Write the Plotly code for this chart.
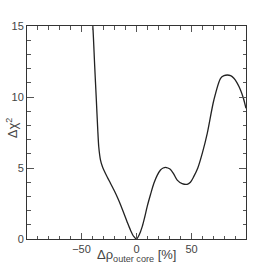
import plotly.graph_objects as go

delta_rho = [-40.5, -39.7, -38, -36.5, -35.2, -34.3, -32.7, -31, -29.7, -26.5, -23.6, -20.5, -17.6, -14.5, -11.5, -8.5, -5.5, -2.5, 0, 2.5, 5.2, 7.5, 9.7, 12.8, 15.8, 18.8, 21.8, 24.2, 26.4, 28.5, 30.9, 34, 37, 41.5, 46, 49, 52, 55.7, 60, 64.3, 70.3, 76.4, 79.5, 82.5, 85.5, 88.5, 91.5, 94.5, 97, 99.5]
delta_chi2 = [15.6, 15.0, 12.2, 9.8, 7.7, 6.5, 5.56, 5.1, 4.86, 4.35, 3.92, 3.45, 2.98, 2.42, 1.81, 1.2, 0.63, 0.18, 0.0, 0.3, 0.87, 1.55, 2.28, 3.15, 3.92, 4.48, 4.86, 5.0, 5.05, 5.0, 4.9, 4.55, 4.15, 3.9, 3.85, 4.0, 4.39, 5.0, 6.1, 7.44, 9.79, 11.32, 11.5, 11.55, 11.5, 11.32, 10.98, 10.5, 9.95, 9.2]

x_ticks = [-50, 0, 50]
x_ticklabels = ["\u221250", "0", "50"]
y_ticks = [0, 5, 10, 15]
y_ticklabels = ["0", "5", "10", "15"]
x_title = "\u0394\u03c1<sub>outer core</sub> [%]"
y_title = "\u0394\u03c7<sup>2</sup>"

fig = go.Figure()
fig.add_trace(go.Scatter(
    x=delta_rho, y=delta_chi2, mode="lines",
    line=dict(color="#222222", width=1.3, shape="spline", smoothing=0.8),
    showlegend=False, hoverinfo="skip",
))

font = dict(family="Liberation Sans, Arial, sans-serif", color="#444444")

fig.update_layout(
    width=273, height=266,
    margin=dict(l=27, r=27, t=26, b=27),
    paper_bgcolor="white", plot_bgcolor="white",
    font=dict(**font, size=11),
    xaxis=dict(
        range=[-99.5, 99.5], tickvals=x_ticks, ticktext=x_ticklabels,
        ticks="inside", ticklen=6, tickwidth=1, tickcolor="#555555",
        minor=dict(ticks="inside", dtick=10, tick0=0, ticklen=3.5, tickcolor="#555555", showgrid=False),
        showline=True, linecolor="#333333", linewidth=1, mirror="ticks",
        showgrid=False, zeroline=False, automargin=False,
        tickfont=dict(size=11, color="#444444"),
    ),
    yaxis=dict(
        range=[0, 15], tickvals=y_ticks, ticktext=y_ticklabels,
        ticks="inside", ticklen=7, tickwidth=1, tickcolor="#555555",
        minor=dict(ticks="inside", dtick=1, tick0=0, ticklen=3.5, tickcolor="#555555", showgrid=False),
        showline=True, linecolor="#333333", linewidth=1, mirror="ticks",
        showgrid=False, zeroline=False, automargin=False,
        tickfont=dict(size=11, color="#444444"),
    ),
    annotations=[
        dict(text=x_title, xref="paper", yref="paper", x=0.5, y=0,
             xanchor="center", yanchor="top", yshift=-6, showarrow=False,
             font=dict(size=13, color="#444444")),
        dict(text=y_title, xref="paper", yref="paper", x=0, y=0.52,
             xanchor="center", yanchor="middle", xshift=-15, textangle=-90, showarrow=False,
             font=dict(size=13, color="#444444")),
    ],
)

fig.write_html("out.html", config={"displayModeBar": False},
               post_script="document.body.style.margin='0';document.body.style.overflow='hidden';")
